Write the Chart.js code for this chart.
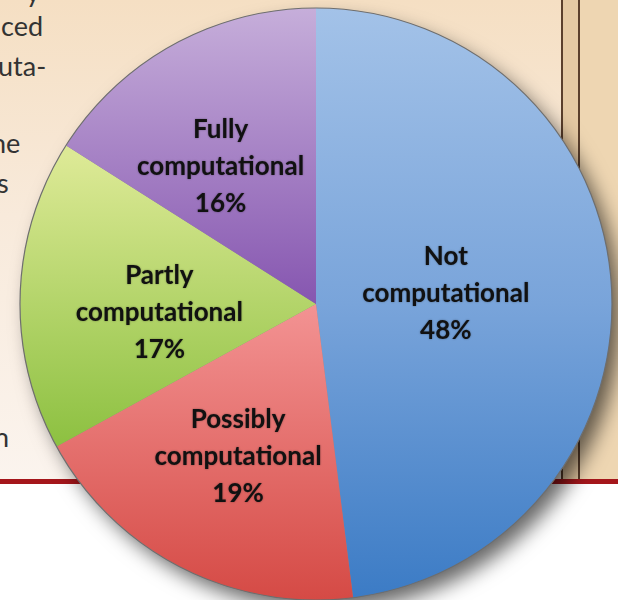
<!DOCTYPE html>
<html>
<head>
<meta charset="utf-8">
<script src="https://cdn.jsdelivr.net/npm/chart.js@4.4.0/dist/chart.umd.min.js"></script>
<style>
    html, body { margin: 0; padding: 0; width: 618px; height: 600px; overflow: hidden; background: #fff; }
    .column { position: absolute; left: 0; top: 0; width: 561px; height: 479px;
              background: linear-gradient(180deg, #f5dfc3 0%, #f8eadb 45%, #fbf4ee 100%); }
    .sidebar { position: absolute; left: 561px; top: 0; width: 57px; height: 479px; background: #eed6b2; }
    .gutter { position: absolute; left: 561px; top: 0; width: 15px; height: 479px; background: #e5c9a3;
              border-left: 2px solid #5b3f2c; border-right: 2px solid #5b3f2c; }
    .rule { position: absolute; left: 0; top: 479px; width: 618px; height: 5px; background: #a5161b; }
    .frag { position: absolute; font-family: Lato, sans-serif; font-size: 27px; color: #333; line-height: 1; }
    #chart { position: absolute; left: 0; top: 0; }
</style>
</head>
<body>
<div class="column"></div>
<div class="sidebar"></div>
<div class="gutter"></div>
<div class="rule"></div>
<span class="frag" style="left:26px; top:-22px;">y</span>
<span class="frag" style="left:1px; top:12px;">ced</span>
<span class="frag" style="left:-2px; top:52px;">uta-</span>
<span class="frag" style="left:-9px; top:129px;">ne</span>
<span class="frag" style="left:-3px; top:169px;">s</span>
<span class="frag" style="left:-6px; top:423px;">n</span>
<canvas id="chart" width="618" height="600"></canvas>
<script>
// values
const categories = ['Not computational', 'Possibly computational', 'Partly computational', 'Fully computational'];
const shares = [48, 19, 17, 16];

// vertical gradient stops per slice (over the full pie height)
const sliceStops = [
    [[0, '#a3c2e8'], [0.5, '#79a4da'], [1, '#3b7bc5']],
    [[0.5, '#f39393'], [1, '#d54a45']],
    [[0.25, '#dce995'], [0.78, '#86bd3a']],
    [[0, '#c6aeda'], [0.5, '#8656b0']]
];
const flatColors = ['#6f9ed6', '#ea7070', '#b3d463', '#9d7bc3'];

// label placement: fraction of radius, angle tweak (deg)
const labelSpots = [[0.44, -1], [0.58, 0], [0.53, -5], [0.565, -6]];

const PIE_RADIUS = 296;

function sliceFill(context) {
    const chart = context.chart;
    const area = chart.chartArea;
    const i = context.dataIndex;
    if (!area) return flatColors[i];
    const cy = (area.top + area.bottom) / 2;
    const g = chart.ctx.createLinearGradient(0, cy - PIE_RADIUS, 0, cy + PIE_RADIUS);
    sliceStops[i].forEach(s => g.addColorStop(s[0], s[1]));
    return g;
}

const pieDecor = {
    id: 'pieDecor',
    beforeDatasetsDraw(chart) {
        const arc = chart.getDatasetMeta(0).data[0];
        if (!arc) return;
        const ctx = chart.ctx;
        ctx.save();
        ctx.shadowColor = 'rgba(0,0,0,0.6)';
        ctx.shadowBlur = 20;
        ctx.shadowOffsetX = 9;
        ctx.shadowOffsetY = 11;
        ctx.beginPath();
        ctx.arc(arc.x, arc.y, arc.outerRadius - 1, 0, Math.PI * 2);
        ctx.fillStyle = '#888';
        ctx.fill();
        ctx.restore();
    },
    afterDatasetsDraw(chart) {
        const meta = chart.getDatasetMeta(0);
        const ctx = chart.ctx;
        const first = meta.data[0];
        ctx.save();
        ctx.beginPath();
        ctx.arc(first.x, first.y, first.outerRadius, 0, Math.PI * 2);
        ctx.strokeStyle = '#6e6e6e';
        ctx.lineWidth = 1.2;
        ctx.stroke();

        ctx.font = 'bold 26px Lato, sans-serif';
        ctx.fillStyle = '#111';
        ctx.textAlign = 'center';
        ctx.textBaseline = 'middle';
        ctx.shadowColor = 'rgba(0,0,0,0.4)';
        ctx.shadowBlur = 2;
        meta.data.forEach((arc, i) => {
            const spot = labelSpots[i];
            const mid = (arc.startAngle + arc.endAngle) / 2 + spot[1] * Math.PI / 180;
            const r = arc.outerRadius * spot[0];
            const x = arc.x + Math.cos(mid) * r;
            const y = arc.y + Math.sin(mid) * r;
            const lines = categories[i].split(' ').concat(shares[i] + '%');
            lines.forEach((line, k) => {
                ctx.fillText(line, x, y + (k - 1) * 37);
            });
        });
        ctx.restore();
    }
};

new Chart(document.getElementById('chart'), {
    type: 'pie',
    data: {
        labels: categories,
        datasets: [{
            data: shares,
            backgroundColor: sliceFill,
            borderWidth: 0,
            radius: PIE_RADIUS
        }]
    },
    options: {
        responsive: false,
        animation: false,
        layout: { padding: { left: 14, right: 0, top: 8, bottom: 0 } },
        plugins: {
            legend: { display: false },
            tooltip: { enabled: false }
        }
    },
    plugins: [pieDecor]
});
</script>
</body>
</html>
